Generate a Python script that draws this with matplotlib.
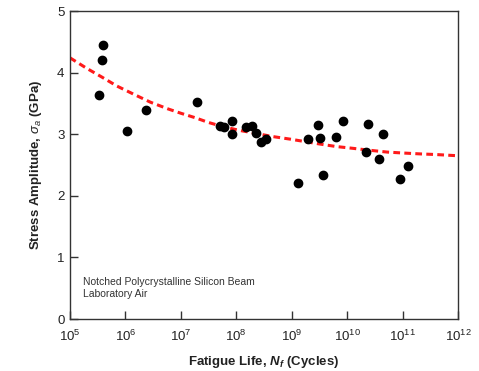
import numpy as np
import matplotlib
matplotlib.use('Agg')
import matplotlib.pyplot as plt

plt.rcParams['font.family'] = ['Liberation Sans', 'DejaVu Sans']
plt.rcParams['mathtext.fontset'] = 'custom'
plt.rcParams['mathtext.rm'] = 'Liberation Sans'
plt.rcParams['mathtext.it'] = 'Liberation Sans:italic'
plt.rcParams['mathtext.bf'] = 'Liberation Sans:bold'
plt.rcParams['mathtext.bfit'] = 'Liberation Sans:bold:italic'

# data points: log10 cycles, stress amplitude (GPa)
log_cycles = [5.60, 5.58, 5.53, 6.03, 6.37, 7.30, 7.71, 7.78, 7.93, 7.92,
              8.18, 8.29, 8.36, 8.45, 8.54, 9.11, 9.29, 9.48, 9.51, 9.57,
              9.80, 9.92, 10.37, 10.34, 10.64, 10.58, 10.95, 11.09]
stress = [4.45, 4.20, 3.63, 3.05, 3.39, 3.53, 3.14, 3.11, 3.22, 3.01,
          3.11, 3.14, 3.02, 2.88, 2.93, 2.21, 2.93, 3.15, 2.94, 2.34,
          2.95, 3.21, 3.16, 2.71, 3.01, 2.60, 2.27, 2.48]

# fitted curve
fit_log_cycles = [5.0, 5.3, 5.57, 5.85, 6.17, 6.45, 6.77, 7.0, 7.25, 7.5,
                  7.77, 8.07, 8.37, 8.67, 8.97, 9.24, 9.51, 9.8, 10.11,
                  10.4, 10.72, 11.0, 11.32, 11.6, 12.0]
fit_stress = [4.24, 4.07, 3.93, 3.78, 3.64, 3.52, 3.41, 3.34, 3.27, 3.19,
              3.12, 3.06, 3.01, 2.96, 2.92, 2.88, 2.84, 2.80, 2.77,
              2.74, 2.71, 2.695, 2.68, 2.67, 2.65]

xticks = [5, 6, 7, 8, 9, 10, 11, 12]
yticks = [0, 1, 2, 3, 4, 5]

fig = plt.figure(figsize=(4.79, 3.71), dpi=100)
ax = fig.add_axes([70/479, 1 - 319/371, 388/479, 308/371])

ax.plot(10.0 ** np.array(fit_log_cycles), fit_stress, color='#ff1a1a',
        linestyle=(0, (2.2, 1.4)), linewidth=2.2, zorder=2)
ax.plot(10.0 ** np.array(log_cycles), stress, 'o', color='black',
        markersize=6, zorder=3)

ax.set_xscale('log')
ax.set_xlim(1e5, 1e12)
ax.set_ylim(0, 5)
ax.set_xticks([10.0 ** t for t in xticks])
ax.set_xticklabels(['$10^{%d}$' % t for t in xticks])
ax.minorticks_off()
ax.set_yticks(yticks)

ax.tick_params(direction='in', length=6, width=1, color='#333333',
               labelsize=9.5, labelcolor='#222222', pad=4)
ax.tick_params(axis='x', pad=7)
for s in ax.spines.values():
    s.set_color('#333333')
    s.set_linewidth(1)

ax.set_xlabel(r'Fatigue Life, $\mathbfit{N}_\mathbfit{f}$ (Cycles)',
              fontsize=9.5, fontweight='bold', color='#222222', labelpad=7)
ax.set_ylabel(r'Stress Amplitude, $\sigma_a$ (GPa)',
              fontsize=9.5, fontweight='bold', color='#222222', labelpad=9)

ax.text(0.034, 0.10, 'Notched Polycrystalline Silicon Beam\nLaboratory Air',
        transform=ax.transAxes, fontsize=7.5, color='#333333',
        va='center', ha='left', linespacing=1.3)

fig.savefig('out.png', dpi=100)
